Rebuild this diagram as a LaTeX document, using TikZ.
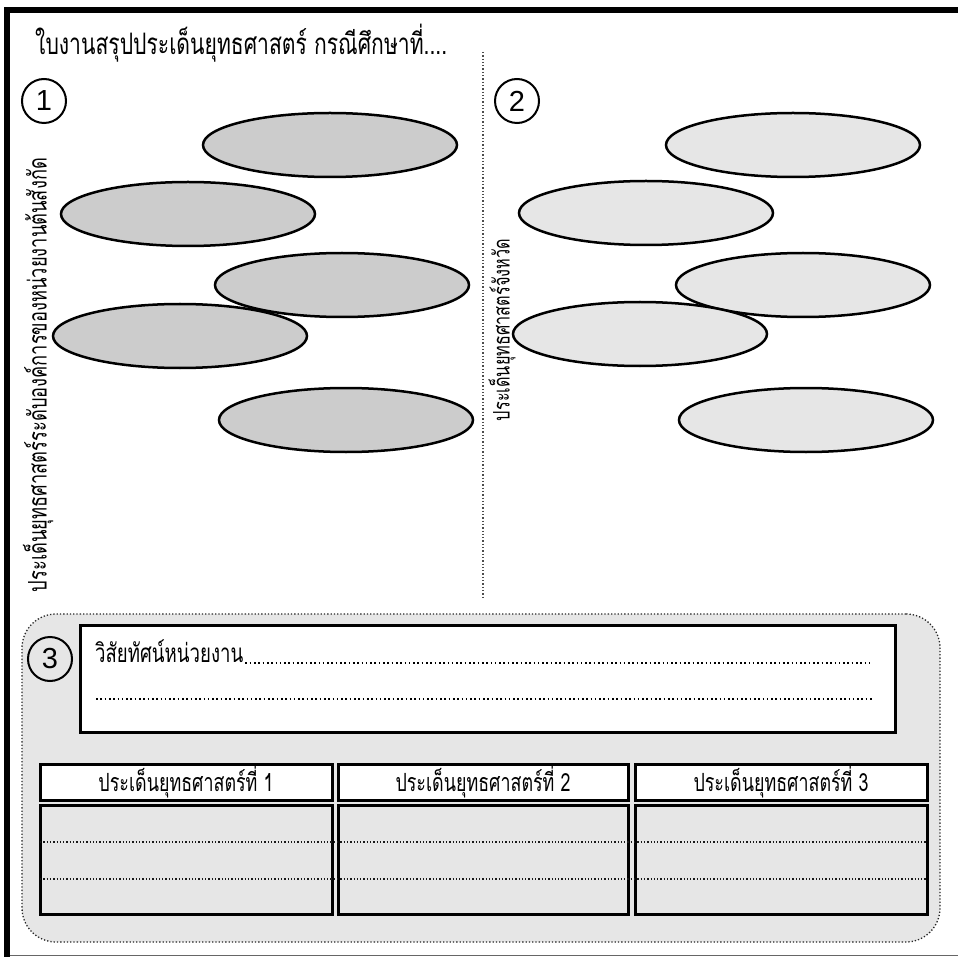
\documentclass[tikz,border=0pt]{standalone}
\usepackage{fontspec}
\usetikzlibrary{shapes.geometric}
\newfontfamily\thai[Script=Thai]{Loma}
\newfontfamily\numfont{Liberation Sans}
\definecolor{ellA}{HTML}{CCCCCC}
\definecolor{ellB}{HTML}{E6E6E6}
\definecolor{panelc}{HTML}{E6E6E6}
\newcommand{\fitw}[2]{\scalebox{1}[1.4]{\resizebox{#1}{!}{\thai #2}}}
\tikzset{
  ellbase/.style={ellipse, draw=black, line width=2.5pt, minimum width=254pt, minimum height=64pt, inner sep=0pt},
  ellleft/.style={ellbase, fill=ellA},
  ellright/.style={ellbase, fill=ellB},
  circnum/.style={circle, draw=black, line width=2pt, minimum size=44pt, inner sep=0pt, font=\numfont\fontsize{29}{30}\selectfont},
  vtext/.style={rotate=90, inner sep=0pt},
  panelbox/.style={draw=black!85, fill=panelc, line width=1.3pt, dash pattern=on 1.3pt off 2pt, rounded corners=34pt, minimum width=918pt, minimum height=328pt, inner sep=0pt},
  whitebox/.style={draw=black, fill=white, line width=3pt, inner sep=0pt},
  headbox/.style={whitebox, minimum height=36pt},
  bodybox/.style={draw=black, fill=panelc, line width=3pt, inner sep=0pt, minimum height=109pt},
  dotline/.style={line width=1.6pt, dash pattern=on 1.6pt off 2.7pt, black},
  thindot/.style={line width=1.3pt, dash pattern=on 1.3pt off 2pt, black!90},
  divider/.style={line width=1.3pt, dash pattern=on 1.3pt off 2pt, black!70},
}
\begin{document}
\begin{tikzpicture}[x=1pt,y=-1pt]
\useasboundingbox (0,0) rectangle (958,957);
% frame
\coordinate (fbl) at (7,957);
\coordinate (ftl) at (7,10);
\coordinate (ftr) at (958,10);
\coordinate (fbl2) at (4,955.5);
\coordinate (fbr) at (958,955.5);
\draw[black!60, line width=1.5pt] (fbl2) -- (fbr);
\draw[black, line width=6pt] (fbl) -- (ftl) -- (ftr);
% title
\node[anchor=base west, inner sep=0pt] (title) at (35,55) {\fitw{412pt}{ใบงานสรุปประเด็นยุทธศาสตร์ กรณีศึกษาที่....}};
% divider
\coordinate (dvt) at (483,52);
\coordinate (dvb) at (483,598);
\draw[divider] (dvt) -- (dvb);
% circled numbers
\node[circnum] (n1) at (44,101) {1};
\node[circnum] (n2) at (517,101) {2};
% vertical texts
\node[vtext] (vl) at (38,375) {\fitw{434pt}{ประเด็นยุทธศาสตร์ระดับองค์การของหน่วยงานต้นสังกัด}};
\node[vtext] (vr) at (502,330) {\fitw{182pt}{ประเด็นยุทธศาสตร์จังหวัด}};
% left ellipses
\node[ellleft] (l1) at (330,145) {};
\node[ellleft] (l2) at (188,214) {};
\node[ellleft] (l3) at (342,285) {};
\node[ellleft] (l4) at (180,336) {};
\node[ellleft] (l5) at (346,420) {};
% right ellipses
\node[ellright] (r1) at (793,145) {};
\node[ellright] (r2) at (646,213) {};
\node[ellright] (r3) at (803,285) {};
\node[ellright] (r4) at (640,334) {};
\node[ellright] (r5) at (806,420) {};
% bottom panel
\node[panelbox] (panel) at (481,778) {};
\node[circnum] (n3) at (50,659) {3};
\node[whitebox, minimum width=815pt, minimum height=107pt] (vision) at (487.5,678.5) {};
\node[anchor=base west, inner sep=0pt] (vt) at (95,662) {\fitw{148pt}{วิสัยทัศน์หน่วยงาน}};
\coordinate (ve) at (870,662);
\draw[dotline] ([xshift=2pt,yshift=-0.8pt]vt.base east) -- ([yshift=-0.8pt]ve);
\coordinate (v2a) at (96,699);
\coordinate (v2b) at (873,699);
\draw[dotline] (v2a) -- (v2b);
% table
\node[headbox, minimum width=292pt] (h1) at (186,782) {\fitw{175pt}{ประเด็นยุทธศาสตร์ที่ 1}};
\node[headbox, minimum width=290pt] (h2) at (483,782) {\fitw{175pt}{ประเด็นยุทธศาสตร์ที่ 2}};
\node[headbox, minimum width=292pt] (h3) at (781,782) {\fitw{175pt}{ประเด็นยุทธศาสตร์ที่ 3}};
\node[bodybox, minimum width=292pt] (b1) at (186,859.5) {};
\node[bodybox, minimum width=290pt] (b2) at (483,859.5) {};
\node[bodybox, minimum width=292pt] (b3) at (781,859.5) {};
\coordinate (t1a) at (40,842);
\coordinate (t1b) at (927,842);
\coordinate (t2a) at (40,879);
\coordinate (t2b) at (927,879);
\draw[thindot] (t1a) -- (t1b);
\draw[thindot] (t2a) -- (t2b);
\end{tikzpicture}
\end{document}
